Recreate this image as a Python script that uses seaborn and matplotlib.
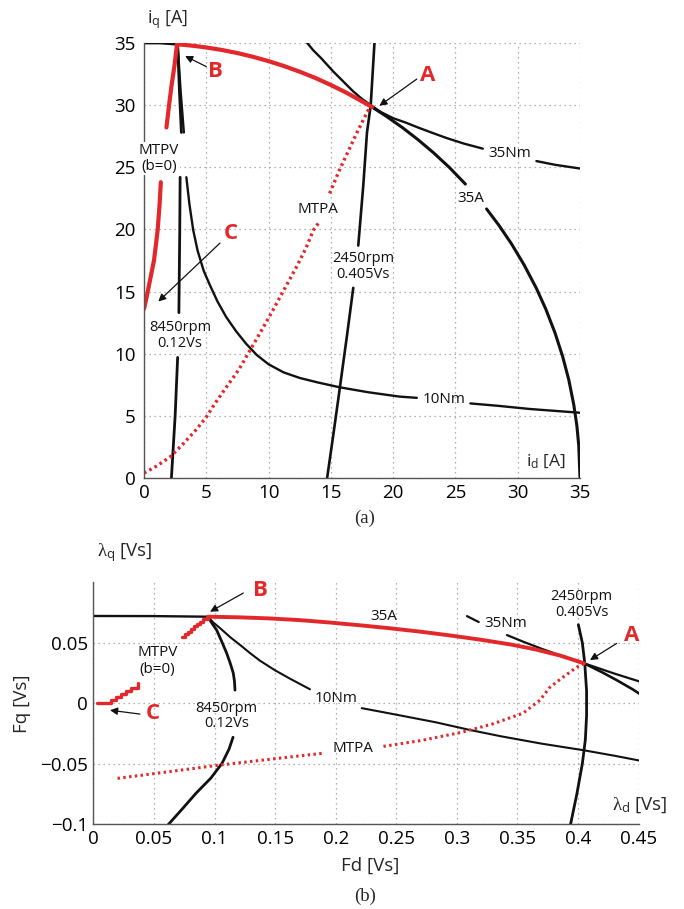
import numpy as np
import matplotlib
matplotlib.use("Agg")
import matplotlib.pyplot as plt
import seaborn as sns

# ---------------- (a) current plane: id, iq [A] ----------------
# NaN separates the pieces of a curve that are interrupted by a label
circle_left_id = [0.0, 1.3, 2.65]
circle_left_iq = [35.0, 35.0, 34.9]
circle_red_id = [2.65, 4.0, 5.0, 6.25, 7.5, 8.75, 10.0, 11.25, 12.5, 13.75, 15.0, 16.25, 17.3, 18.3]
circle_red_iq = [34.9, 34.77, 34.64, 34.44, 34.19, 33.89, 33.54, 33.14, 32.69, 32.19, 31.62, 31.0,
                 30.42, 29.85]
circle_right_id = [18.3, 19.5, 20.75, 22.0, 23.25, 24.5, 25.8, np.nan, 27.5, 28.5, 29.5, 30.5, 31.5,
                   32.25, 33.0, 33.6, 34.1, 34.5, 34.75, 34.9, 35.0]
circle_right_iq = [29.85, 29.07, 28.19, 27.22, 26.16, 25.0, 23.65, np.nan, 21.65, 20.32, 18.84, 17.17,
                   15.26, 13.6, 11.66, 9.8, 7.9, 5.9, 4.2, 2.6, 0.0]

nm35_id = [13.1, 13.6, 14.2, 15.2, 16.0, 16.8, 17.5, 18.2, 19.0, 20.0, 21.0, 22.0, 23.2, 24.3, 25.7,
           27.2, np.nan, 31.5, 33.0, 35.0]
nm35_iq = [35.0, 34.4, 33.8, 32.7, 31.9, 31.1, 30.5, 30.0, 29.45, 28.95, 28.6, 28.2, 27.75, 27.35,
           26.9, 26.5, np.nan, 25.5, 25.2, 24.9]

nm10_id = [2.7, 2.95, 3.2, np.nan, 3.4, 3.65, 3.95, 4.3, 4.8, 5.3, 5.9, 6.6, 7.4, 8.2, 9.05,
           10.0, 11.2, 12.5, 13.9, 15.7, 18.0, 20.5, 21.9, np.nan, 26.2, 28.5, 31.0, 33.0, 35.0]
nm10_iq = [34.9, 31.0, 27.8, np.nan, 24.2, 22.0, 19.95, 18.3, 16.65, 15.5, 14.2, 12.95, 11.8,
           10.8, 9.9, 9.15, 8.5, 8.05, 7.7, 7.3, 6.9, 6.55, 6.45, np.nan, 6.0, 5.8, 5.55, 5.4, 5.25]

rpm8450_id = [2.7, 2.85, 3.0, np.nan, 2.9, 2.87, 2.8, np.nan, 2.7, 2.5, 2.2]
rpm8450_iq = [34.9, 31.0, 27.8, np.nan, 24.2, 19.9, 13.3, np.nan, 9.7, 5.0, 0.0]

rpm2450_id = [14.7, 15.2, 15.7, 16.3, 16.8, np.nan, 17.2, 17.6, 17.9, 18.2, 18.5]
rpm2450_iq = [0.0, 3.5, 7.1, 11.5, 15.3, np.nan, 18.7, 23.5, 27.8, 30.0, 35.0]

mtpa_id = [0.0, 1.0, 2.1, 3.1, 4.2, 5.0, 5.7, 6.6, 7.6, 8.7, 9.85, 11.0, 12.25, 13.0, 13.6, 14.0,
           np.nan, 14.9, 15.7, 16.4, 17.1, 17.9, 18.2]
mtpa_iq = [0.4, 0.95, 1.7, 2.7, 3.9, 4.9, 6.0, 7.3, 8.7, 10.6, 12.6, 14.7, 17.0, 18.5, 19.95, 20.5,
           np.nan, 22.9, 24.8, 26.3, 27.8, 29.4, 30.0]

mtpv_id = [0.0, 0.2, 0.4, 0.6, 0.8, 0.95, 1.1, 1.25, 1.35, np.nan, 1.8, 2.0, 2.2, 2.45, 2.65]
mtpv_iq = [13.6, 14.5, 15.5, 16.5, 17.5, 18.7, 20.0, 22.0, 23.8, np.nan, 28.2, 29.9, 31.5, 33.2, 34.9]

# ---------------- (b) flux plane: lambda_d, lambda_q [Vs] ----------------
flat_ld = [0.0, 0.05, 0.0946]
flat_lq = [0.0722, 0.0721, 0.0716]
a35_red_ld = [0.0946, 0.12, 0.145, 0.17, 0.195, 0.22, 0.245, 0.27, 0.295, 0.32, 0.345, 0.365,
              0.385, 0.405]
a35_red_lq = [0.0716, 0.0711, 0.0702, 0.0688, 0.0668, 0.0645, 0.062, 0.0592, 0.056, 0.0525,
              0.0485, 0.0445, 0.0395, 0.033]
a35_black_ld = [0.405, 0.42, 0.432, 0.445, 0.455]
a35_black_lq = [0.033, 0.0255, 0.019, 0.0115, 0.005]

nm35_ld = [0.3083, 0.318, np.nan, 0.3413, 0.355, 0.37, 0.387, 0.405, 0.43, 0.455]
nm35_lq = [0.0721, 0.0672, np.nan, 0.0564, 0.0508, 0.045, 0.039, 0.033, 0.0245, 0.0166]

nm10_ld = [0.0946, 0.099, 0.1045, 0.1128, 0.122, 0.1293, 0.1375, 0.15, 0.1623, 0.1788, np.nan,
           0.2215, 0.25, 0.2825, 0.31, 0.3364, 0.37, 0.4049, 0.43, 0.4533]
nm10_lq = [0.0716, 0.0668, 0.0622, 0.0548, 0.0475, 0.0415, 0.0352, 0.0272, 0.0203, 0.0115, np.nan,
           -0.0041, -0.0095, -0.0158, -0.022, -0.0274, -0.0335, -0.039, -0.0435, -0.048]

rpm8450_ld = [0.0946, 0.098, 0.1018, 0.106, 0.110, 0.113, 0.1155, 0.1165, 0.1169, np.nan,
              0.1153, 0.112, 0.1062, 0.097, 0.0847, 0.073, 0.0597]
rpm8450_lq = [0.0716, 0.066, 0.0605, 0.051, 0.0415, 0.033, 0.0249, 0.018, 0.0108, np.nan,
              -0.0282, -0.038, -0.0498, -0.062, -0.0746, -0.088, -0.1029]

rpm2450_ld = [0.4002, 0.4035, 0.4055, 0.407, 0.407, 0.406, 0.4035, 0.399, 0.393]
rpm2450_lq = [0.065, 0.05, 0.033, 0.01, -0.01, -0.03, -0.05, -0.075, -0.104]

mtpa_ld = [0.020, 0.06, 0.1028, 0.145, 0.1887, np.nan, 0.2394, 0.27, 0.3042, 0.33, 0.3545, 0.3685,
           0.3768, 0.3876, 0.3991, 0.405]
mtpa_lq = [-0.0622, -0.057, -0.0514, -0.0465, -0.0415, np.nan, -0.0357, -0.031, -0.024, -0.017,
           -0.0083, 0.0025, 0.0133, 0.0216, 0.0299, 0.033]

mtpv_hi_ld = [0.073, 0.0755, 0.078, 0.0805, 0.083, 0.0855, 0.088, 0.0905, 0.0946]
mtpv_hi_lq = [0.055, 0.057, 0.0592, 0.0614, 0.0635, 0.0657, 0.0675, 0.0697, 0.0716]
mtpv_lo_ld = [0.003, 0.011, 0.015, 0.019, 0.023, 0.027, 0.031, 0.037]
mtpv_lo_lq = [0.0, 0.0, 0.0025, 0.005, 0.0075, 0.0102, 0.0128, 0.0165]

id_ticks = [0, 5, 10, 15, 20, 25, 30, 35]
ld_ticks = [0, 0.05, 0.1, 0.15, 0.2, 0.25, 0.3, 0.35, 0.4, 0.45]
ld_tick_labels = ["0", "0.05", "0.1", "0.15", "0.2", "0.25", "0.3", "0.35", "0.4", "0.45"]
lq_ticks = [-0.1, -0.05, 0, 0.05]
lq_tick_labels = ["\u22120.1", "\u22120.05", "0", "0.05"]

# ---------------- style ----------------
sns.set_theme(style="white")
plt.rcParams["font.family"] = ["Open Sans", "DejaVu Sans"]
plt.rcParams["mathtext.fontset"] = "custom"
plt.rcParams["mathtext.rm"] = "Liberation Serif"
plt.rcParams["mathtext.sf"] = "Open Sans"
plt.rcParams["mathtext.it"] = "Liberation Serif:italic"

RED = "#e3282c"
BLACK = "#111111"
GRID = "#9a9a9a"

W, H = 684, 909
fig = plt.figure(figsize=(W / 100, H / 100), dpi=100)


def fx(px):
    return px / W


def fy(py):
    return 1 - py / H


axA = fig.add_axes([fx(144), fy(478), 436 / W, 435 / H])
axB = fig.add_axes([fx(93.3), fy(824), 545.4 / W, 241.6 / H])


def draw(ax, x, y, **kw):
    """Draw a curve; NaN entries split it into separate pieces."""
    x = np.asarray(x, float)
    y = np.asarray(y, float)
    breaks = np.where(np.isnan(x))[0]
    starts = np.r_[0, breaks + 1]
    ends = np.r_[breaks, len(x)]
    for s, e in zip(starts, ends):
        sns.lineplot(x=x[s:e], y=y[s:e], ax=ax, sort=False, estimator=None,
                     legend=False, **kw)


def style_axes(ax):
    for side in ("top", "right"):
        ax.spines[side].set_visible(False)
    for side in ("left", "bottom"):
        ax.spines[side].set_color("#555555")
        ax.spines[side].set_linewidth(1.0)
    ax.grid(True, linestyle=(0, (1, 3)), color=GRID, linewidth=0.9)
    ax.set_axisbelow(True)
    ax.tick_params(direction="in", length=4, width=0.8, color="#555555",
                   labelcolor="black", labelsize=13.5)
    ax.set_xlabel("")
    ax.set_ylabel("")


def arrow(ax, tip, tail):
    ax.annotate("", xy=tip, xytext=tail,
                arrowprops=dict(arrowstyle="-|>", color=BLACK, lw=0.9,
                                mutation_scale=11, shrinkA=0, shrinkB=0))


# ---------------- (a) ----------------
ax = axA
draw(ax, circle_left_id, circle_left_iq, color=BLACK, linewidth=2.0)
draw(ax, circle_right_id, circle_right_iq, color=BLACK, linewidth=2.2)
draw(ax, nm35_id, nm35_iq, color=BLACK, linewidth=1.7)
draw(ax, nm10_id, nm10_iq, color=BLACK, linewidth=1.7)
draw(ax, rpm8450_id, rpm8450_iq, color=BLACK, linewidth=2.0)
draw(ax, rpm2450_id, rpm2450_iq, color=BLACK, linewidth=1.9)
draw(ax, mtpa_id, mtpa_iq, color=RED, linewidth=2.4, linestyle=(0, (0.8, 1.0)))
draw(ax, mtpv_id, mtpv_iq, color=RED, linewidth=3.0)
draw(ax, circle_red_id, circle_red_iq, color=RED, linewidth=3.0)

ax.set_xlim(0, 35)
ax.set_ylim(0, 35)
ax.set_xticks(id_ticks)
ax.set_yticks(id_ticks)
style_axes(ax)
ax.tick_params(axis="y", pad=6)
ax.tick_params(axis="x", pad=4)

lab = dict(fontsize=11, color=BLACK, ha="center", va="center")
rpm = dict(lab, fontsize=10.5)
ax.text(29.4, 26.1, "35Nm", **lab)
ax.text(26.2, 22.5, "35A", **lab)
ax.text(14.0, 21.6, "MTPA", **lab)
ax.text(17.6, 17.0, "2450rpm\n0.405Vs", linespacing=1.05, **rpm)
ax.text(2.9, 11.45, "8450rpm\n0.12Vs", linespacing=1.05, **rpm)
ax.text(24.05, 6.3, "10Nm", **lab)
ax.text(1.2, 25.7, "MTPV\n(b=0)", linespacing=1.15, zorder=6, clip_on=False,
        bbox=dict(facecolor="white", edgecolor="none", pad=0.5), **lab)

red = dict(fontsize=16, color=RED, fontweight="bold", ha="center", va="center")
ax.text(22.8, 32.4, "A", **red)
ax.text(5.7, 32.7, "B", **red)
ax.text(7.0, 19.7, "C", **red)
arrow(ax, (18.9, 29.95), (21.9, 32.1))
arrow(ax, (3.3, 33.95), (5.0, 33.1))
arrow(ax, (1.15, 14.2), (6.1, 18.9))

fig.text(fx(147), fy(20), r"$\mathsf{i}_{\mathsf{q}}$ [A]", fontsize=13, ha="left", va="center")
fig.text(fx(546), fy(461), r"$\mathsf{i}_{\mathsf{d}}$ [A]", fontsize=12.5, ha="center", va="center")
fig.text(fx(365), fy(518), "(a)", fontsize=13.5, family=["Liberation Serif"], ha="center", va="center")

# ---------------- (b) ----------------
ax = axB
draw(ax, flat_ld, flat_lq, color=BLACK, linewidth=1.7)
draw(ax, a35_black_ld, a35_black_lq, color=BLACK, linewidth=1.9)
draw(ax, nm35_ld, nm35_lq, color=BLACK, linewidth=1.6)
draw(ax, nm10_ld, nm10_lq, color=BLACK, linewidth=1.5)
draw(ax, rpm8450_ld, rpm8450_lq, color=BLACK, linewidth=2.0)
draw(ax, rpm2450_ld, rpm2450_lq, color=BLACK, linewidth=2.0)
draw(ax, mtpa_ld, mtpa_lq, color=RED, linewidth=2.2, linestyle=(0, (0.8, 1.1)))
draw(ax, mtpv_hi_ld, mtpv_hi_lq, color=RED, linewidth=2.4, drawstyle="steps-post")
draw(ax, mtpv_lo_ld, mtpv_lo_lq, color=RED, linewidth=2.4, drawstyle="steps-post")
draw(ax, a35_red_ld, a35_red_lq, color=RED, linewidth=2.8)

ax.set_xlim(0, 0.45)
ax.set_ylim(-0.1, 0.1)
ax.set_xticks(ld_ticks)
ax.set_xticklabels(ld_tick_labels)
ax.set_yticks(lq_ticks)
ax.set_yticklabels(lq_tick_labels)
style_axes(ax)
ax.tick_params(axis="y", pad=4)
ax.tick_params(axis="x", pad=4)

ax.text(0.2393, 0.0716, "35A", **lab)
ax.text(0.3405, 0.066, "35Nm", **lab)
ax.text(0.403, 0.0815, "2450rpm\n0.405Vs", linespacing=1.05, **rpm)
ax.text(0.053, 0.035, "MTPV\n(b=0)", linespacing=1.15, **lab)
ax.text(0.200, 0.004, "10Nm", **lab)
ax.text(0.214, -0.0373, "MTPA", **lab)
ax.text(0.110, -0.0107, "8450rpm\n0.12Vs", linespacing=1.05, **rpm)

ax.text(0.4442, 0.0564, "A", **red)
ax.text(0.1376, 0.0937, "B", **red)
ax.text(0.0495, -0.0085, "C", **red)
arrow(ax, (0.4098, 0.0357), (0.4318, 0.0495))
arrow(ax, (0.0963, 0.0757), (0.1238, 0.0912))
arrow(ax, (0.0138, -0.0058), (0.0385, -0.009))

fig.text(fx(97), fy(553), r"$\mathrm{\lambda}_{\mathsf{q}}$ [Vs]", fontsize=13.5, ha="left", va="center")
fig.text(fx(612), fy(805), r"$\mathrm{\lambda}_{\mathsf{d}}$ [Vs]", fontsize=13.5, ha="left", va="center")
fig.text(fx(22), fy(704), "Fq [Vs]", fontsize=13.5, rotation=90, ha="center", va="center")
fig.text(fx(370), fy(866), "Fd [Vs]", fontsize=13.5, ha="center", va="center")
fig.text(fx(365), fy(896), "(b)", fontsize=13.5, family=["Liberation Serif"], ha="center", va="center")

fig.savefig("out.png", dpi=100, facecolor="white")
